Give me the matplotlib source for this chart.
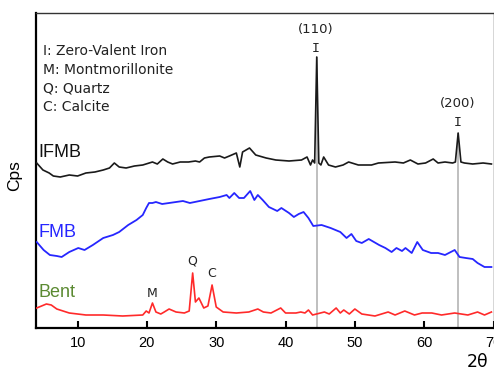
import numpy as np
import matplotlib
matplotlib.use("Agg")
import matplotlib.pyplot as plt

# ---------------- data (2theta, arbitrary intensity) ----------------
ifmb_x = [4.1, 5.0, 5.9, 6.5, 7.5, 8.8, 10.0, 11.2, 12.5, 13.7,
          14.6, 15.3, 16.0, 17.0, 18.2, 19.4, 20.8, 21.5, 22.3, 23.0,
          23.7, 24.8, 26.0, 27.0, 27.6, 28.3, 29.0, 30.5, 31.2, 31.9,
          32.9, 33.4, 33.8, 34.8, 35.7, 37.2, 38.6, 40.5, 42.3, 43.1,
          43.6, 43.9, 44.2, 44.5, 44.8, 45.1, 45.5, 46.2, 47.2, 48.3,
          49.1, 50.5, 52.4, 53.4, 55.8, 57.0, 58.0, 59.1, 60.2, 61.3,
          62.0, 63.0, 64.1, 64.5, 64.9, 65.3, 65.8, 67.0, 68.5, 69.7]
ifmb_y = [165, 158, 155, 152, 151, 153, 152, 155, 156, 158,
          160, 165, 161, 160, 162, 163, 166, 164, 169, 166,
          164, 166, 166, 167, 166, 170, 171, 172, 170, 172,
          175, 161, 176, 180, 173, 170, 168, 167, 168, 171,
          163, 168, 165, 271, 165, 163, 171, 163, 161, 163,
          166, 163, 163, 165, 166, 165, 168, 164, 165, 169,
          165, 166, 165, 166, 195, 166, 165, 164, 165, 164]

fmb_x = [4.1, 5.1, 6.0, 7.0, 7.7, 8.8, 10.1, 11.0, 12.2, 13.7,
         15.1, 16.0, 17.3, 18.5, 19.4, 19.9, 20.3, 20.8, 21.3, 22.2,
         23.2, 24.2, 25.2, 26.2, 27.6, 29.0, 30.5, 31.5, 31.9, 32.6,
         33.3, 34.0, 34.9, 35.5, 36.0, 36.7, 37.6, 38.8, 39.4, 40.5,
         41.2, 41.9, 42.6, 43.3, 44.0, 45.2, 46.5, 47.2, 47.9, 48.8,
         49.5, 50.2, 51.0, 52.0, 53.5, 54.4, 55.3, 56.0, 56.8, 57.3,
         58.2, 59.0, 59.8, 61.0, 62.0, 63.0, 64.4, 65.1, 66.0, 67.0,
         67.7, 68.7, 69.7]
fmb_y = [86, 78, 73, 72, 71, 76, 80, 78, 83, 90,
         93, 96, 103, 108, 113, 120, 125, 125, 126, 124,
         125, 126, 127, 125, 127, 129, 131, 133, 130, 135,
         130, 130, 137, 128, 133, 128, 121, 117, 120, 115,
         111, 114, 116, 110, 102, 103, 100, 98, 96, 90,
         94, 87, 85, 89, 83, 80, 76, 80, 77, 80,
         75, 86, 78, 75, 75, 73, 78, 71, 70, 69,
         65, 61, 61]

bent_x = [4.1, 5.5, 6.2, 7.0, 8.8, 11.2, 13.7, 16.5, 19.4, 19.9,
          20.3, 20.8, 21.3, 22.0, 22.5, 23.2, 24.2, 25.4, 26.1, 26.6,
          27.0, 27.5, 28.2, 28.8, 29.4, 30.0, 31.0, 32.9, 34.7, 36.0,
          36.8, 37.9, 39.3, 40.0, 40.8, 41.5, 42.2, 42.8, 43.3, 43.9,
          45.6, 46.3, 47.3, 47.9, 48.4, 49.2, 50.0, 51.0, 52.9, 54.8,
          55.8, 57.2, 58.6, 59.7, 61.1, 62.5, 64.4, 66.3, 67.7, 68.7,
          69.7]
bent_y = [20, 24, 23, 19, 15, 13, 13, 12, 13, 17,
          15, 25, 16, 14, 16, 19, 16, 15, 17, 55,
          26, 30, 20, 22, 43, 21, 16, 15, 16, 19,
          16, 15, 20, 15, 15, 15, 16, 15, 18, 13,
          16, 14, 20, 15, 18, 14, 19, 14, 12, 16,
          13, 17, 13, 15, 15, 13, 15, 13, 16, 13,
          16]

fe_peaks = [44.5, 64.9]
fe_planes = ["(110)", "(200)"]
legend_lines = ["I: Zero-Valent Iron", "M: Montmorillonite", "Q: Quartz", "C: Calcite"]
bent_marks = [("M", 20.8), ("Q", 26.6), ("C", 29.4)]
xticks = [10, 20, 30, 40, 50, 60, 70]

# ---------------- figure ----------------
fig = plt.figure(figsize=(4.94, 3.67), dpi=100)
ax = fig.add_axes([36/494, 1 - 328/367, 1 - 36/494 - 0.001, (328 - 13)/367])
ax.set_xlim(4, 70)
ax.set_ylim(0, 315)

# grey reference lines at Fe peaks
for p in fe_peaks:
    top = np.interp(p, ifmb_x, ifmb_y)
    ax.vlines(p, 0, top, color="#b4b4b4", lw=1.2, zorder=1)

ax.plot(ifmb_x, ifmb_y, color="#1a1a1a", lw=1.2, zorder=3)
ax.plot(fmb_x, fmb_y, color="#2626ff", lw=1.3, zorder=3)
ax.plot(bent_x, bent_y, color="#ff2a2a", lw=1.2, zorder=3)

# series labels
lab_font = "Liberation Sans"
ax.text(4.35, 171, "IFMB", color="#111111", fontsize=13, family=lab_font, va="baseline")
ax.text(4.35, 91, "FMB", color="#2626ff", fontsize=13, family=lab_font, va="baseline")
ax.text(4.35, 31, "Bent", color="#5b8a32", fontsize=13, family=lab_font, va="baseline")

# legend text block
for i, s in enumerate(legend_lines):
    ax.text(5.05, 273 - i * 18.7, s, color="#222222", fontsize=10,
            family="DejaVu Sans", va="baseline")

# Fe peak labels
iron_label_base = [276, 202]
for p, plane, b in zip(fe_peaks, fe_planes, iron_label_base):
    ax.text(p - 0.1, b, "I", ha="center", va="baseline", fontsize=9.5,
            family="DejaVu Sans Mono", color="#222222")
    ax.text(p - 0.1, b + 19, plane, ha="center", va="baseline", fontsize=9.5,
            family="DejaVu Sans", color="#222222")

# bentonite mineral labels
mark_base = {"M": 31, "Q": 64, "C": 51}
for m, xx in bent_marks:
    ax.text(xx, mark_base[m], m, ha="center", va="baseline", fontsize=9,
            family="DejaVu Sans", color="#222222")

# axes styling
for side in ["left", "bottom"]:
    ax.spines[side].set_linewidth(1.6)
    ax.spines[side].set_color("black")
for side in ["top", "right"]:
    ax.spines[side].set_linewidth(1.0)
    ax.spines[side].set_color("#333333")

ax.set_yticks([])
ax.set_xticks(xticks)
ax.set_xticklabels([str(t) for t in xticks], family=lab_font, fontsize=10.5)
ax.tick_params(axis="x", direction="in", length=5, width=1.5, pad=6, color="black")

fig.text(15/494, 1 - 176/367, "Cps", rotation=90, ha="center", va="center",
         fontsize=12.5, family=lab_font)
fig.text(478/494, 1 - 362/367, "2θ", ha="center", va="center",
         fontsize=12.5, family="DejaVu Sans")

fig.savefig("out.png", dpi=100)
